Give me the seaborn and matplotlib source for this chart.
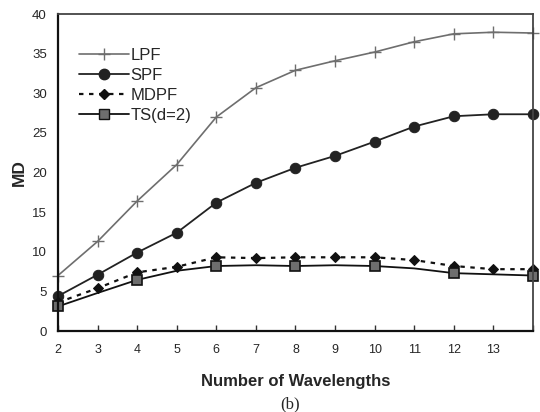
import matplotlib
matplotlib.use("Agg")
import matplotlib.pyplot as plt
import seaborn as sns
import pandas as pd
from matplotlib.lines import Line2D

wavelengths = [2, 3, 4, 5, 6, 7, 8, 9, 10, 11, 12, 13, 14]
lpf = [7.0, 11.3, 16.4, 21.0, 27.0, 30.7, 32.9, 34.1, 35.2, 36.5, 37.5, 37.7, 37.6]
spf = [4.4, 7.1, 9.9, 12.4, 16.2, 18.7, 20.6, 22.1, 23.9, 25.8, 27.1, 27.35, 27.35]
mdpf = [3.6, 5.4, 7.4, 8.1, 9.3, 9.2, 9.3, 9.3, 9.3, 8.95, 8.2, 7.8, 7.8]
ts = [3.1, 4.8, 6.45, 7.6, 8.2, 8.3, 8.2, 8.3, 8.2, 7.9, 7.3, 7.15, 7.0]
xtick_labels = ["2", "3", "4", "5", "6", "7", "8", "9", "10", "11", "12", "13", ""]
yticks = [0, 5, 10, 15, 20, 25, 30, 35, 40]

sns.set_style("ticks")
plt.rcParams['font.family'] = ['Liberation Sans', 'DejaVu Sans']

fig = plt.figure(figsize=(5.4, 4.12), dpi=100)
ax = fig.add_axes([0.1074, 0.1966, 0.8796, 0.7694])

df = pd.DataFrame({"x": wavelengths, "LPF": lpf, "SPF": spf, "MDPF": mdpf, "TS": ts})

sns.lineplot(data=df, x="x", y="LPF", ax=ax, color="#6e6e6e", lw=1.2, clip_on=False,
             marker="+", markersize=9, markeredgewidth=1.0, markeredgecolor="#6e6e6e")
sns.lineplot(data=df, x="x", y="SPF", ax=ax, color="#222222", lw=1.3, clip_on=False,
             marker="o", markersize=7.5, markeredgecolor="#222222", markerfacecolor="#222222")
sns.lineplot(data=df, x="x", y="MDPF", ax=ax, color="#111111", lw=1.6, linestyle=(0, (2, 2.5)),
             clip_on=False,
             marker="D", markersize=5.5, markeredgecolor="#111111", markerfacecolor="#111111")
sns.lineplot(data=df, x="x", y="TS", ax=ax, color="#111111", lw=1.3, clip_on=False,
             marker="s", markersize=7, markevery=2, markeredgecolor="#111111",
             markerfacecolor="#6e6e6e", markeredgewidth=1.2)

ax.set_xlim(2, 14)
ax.set_ylim(0, 40)
ax.set_xticks(wavelengths)
ax.set_xticklabels(xtick_labels, fontsize=9)
ax.set_yticks(yticks)
ax.set_yticklabels([str(v) for v in yticks], fontsize=9.5)
ax.tick_params(axis="x", direction="in", length=4, width=1, pad=9, color="#333333")
ax.tick_params(axis="y", length=0, pad=8)

for side in ["left", "bottom"]:
    ax.spines[side].set_linewidth(1.6)
    ax.spines[side].set_color("#111111")
for side in ["top", "right"]:
    ax.spines[side].set_visible(True)
    ax.spines[side].set_linewidth(1.3)
    ax.spines[side].set_color("#444444")

ax.set_xlabel("Number of Wavelengths", fontsize=12, fontweight="bold")
ax.xaxis.set_label_coords(0.5, -0.135)
ax.set_ylabel("MD", fontsize=12.5, fontweight="bold")
ax.yaxis.set_label_coords(-0.066, 0.5)

handles = [
    Line2D([], [], color="#6e6e6e", lw=1.2, marker="+", markersize=9, markeredgewidth=1.0),
    Line2D([], [], color="#222222", lw=1.3, marker="o", markersize=7.5),
    Line2D([], [], color="#111111", lw=1.6, linestyle=(0, (2, 2.5)), marker="D", markersize=5.5),
    Line2D([], [], color="#111111", lw=1.3, marker="s", markersize=7,
           markerfacecolor="#6e6e6e", markeredgecolor="#111111"),
]
ax.legend(handles, ["LPF", "SPF", "MDPF", "TS(d=2)"], loc="upper left",
          bbox_to_anchor=(0.03, 0.915), frameon=False, fontsize=12,
          handlelength=3.0, handletextpad=0.1, labelspacing=0.3, borderaxespad=0)

fig.text(0.537, 0.008, "(b)", fontsize=12, family=["Liberation Serif", "DejaVu Serif"],
         ha="center")

fig.savefig("out.png", dpi=100)
